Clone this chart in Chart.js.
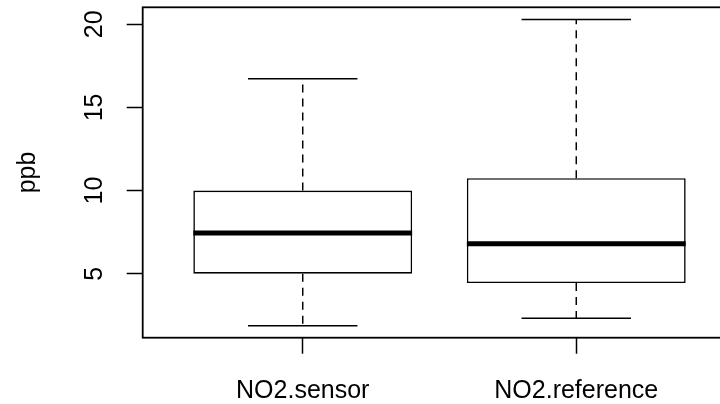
<!DOCTYPE html>
<html>
<head>
<meta charset="utf-8">
<title>NO2 boxplot</title>
<script src="https://cdn.jsdelivr.net/npm/chart.js@4"></script>
<style>
    html, body { margin: 0; padding: 0; background: #fff; overflow: hidden; }
    canvas { display: block; }
</style>
</head>
<body>
<canvas id="box-chart" width="740" height="404"></canvas>
<script>
// values (ppb)
const categories = ['NO2.sensor', 'NO2.reference'];
const whiskerLow = [1.87, 2.32];
const boxLow = [5.0, 4.44];
const medians = [7.45, 6.8];
const boxHigh = [10.0, 10.74];
const whiskerHigh = [16.73, 20.28];
const yTicks = [5, 10, 15, 20];

const positions = categories.map((c, i) => i + 1);
const boxHalf = 0.4;   // boxwex 0.8
const capHalf = 0.2;   // staple width

const FONT = '"Liberation Sans", Arial, Helvetica, sans-serif';

// segments, separated by gap points
const medianData = [];
const whiskerData = [];
const capData = [];
positions.forEach((p, i) => {
    medianData.push({x: p - boxHalf, y: medians[i]}, {x: p + boxHalf, y: medians[i]}, {x: p, y: null});
    whiskerData.push({x: p, y: boxHigh[i]}, {x: p, y: whiskerHigh[i]}, {x: p, y: null});
    whiskerData.push({x: p, y: boxLow[i]}, {x: p, y: whiskerLow[i]}, {x: p, y: null});
    capData.push({x: p - capHalf, y: whiskerHigh[i]}, {x: p + capHalf, y: whiskerHigh[i]}, {x: p, y: null});
    capData.push({x: p - capHalf, y: whiskerLow[i]}, {x: p + capHalf, y: whiskerLow[i]}, {x: p, y: null});
});

// frame round the plot region
const frame = {
    id: 'frame',
    afterDatasetsDraw(chart) {
        const a = chart.chartArea;
        const ctx = chart.ctx;
        ctx.save();
        ctx.strokeStyle = '#000';
        ctx.lineWidth = 1.8;
        ctx.strokeRect(a.left, a.top, a.right - a.left, a.bottom - a.top);
        ctx.restore();
    }
};

// no extra room for overhanging labels
const noLabelPadding = (scale) => {
    scale.paddingTop = 0;
    scale.paddingBottom = 0;
    scale.paddingLeft = 0;
    scale.paddingRight = 0;
};

const lineStyle = {
    type: 'line',
    borderColor: '#000',
    pointRadius: 0,
    fill: false,
    tension: 0,
    spanGaps: false
};

new Chart(document.getElementById('box-chart').getContext('2d'), {
    type: 'bar',
    data: {
        datasets: [
            Object.assign({}, lineStyle, {
                data: medianData,
                borderWidth: 5,
                borderCapStyle: 'butt',
                order: 1
            }),
            Object.assign({}, lineStyle, {
                data: capData,
                borderWidth: 1.5,
                order: 1
            }),
            Object.assign({}, lineStyle, {
                data: whiskerData,
                borderWidth: 1.5,
                borderDash: [8, 6],
                order: 2
            }),
            {
                type: 'bar',
                data: positions.map((p, i) => ({x: p, y: [boxLow[i], boxHigh[i]]})),
                backgroundColor: '#fff',
                borderColor: '#000',
                borderWidth: 1.6,
                borderSkipped: false,
                barPercentage: 0.8,
                categoryPercentage: 1,
                order: 3
            }
        ]
    },
    options: {
        responsive: false,
        animation: false,
        events: [],
        layout: { padding: { top: 7.3, right: 3.7, left: 0, bottom: 0 } },
        plugins: {
            legend: { display: false },
            tooltip: { enabled: false }
        },
        scales: {
            x: {
                type: 'linear',
                min: 0.415,
                max: 2.585,
                offset: false,
                afterBuildTicks: (scale) => { scale.ticks = positions.map(v => ({value: v})); },
                afterFit: (scale) => { scale.height = 66.3; noLabelPadding(scale); },
                grid: {
                    offset: false,
                    drawOnChartArea: false,
                    drawTicks: true,
                    tickLength: 16,
                    tickWidth: 1.5,
                    tickColor: '#000'
                },
                border: { display: false },
                ticks: {
                    color: '#000',
                    font: { family: FONT, size: 25 },
                    padding: 22,
                    maxRotation: 0,
                    autoSkip: false,
                    callback: (v) => categories[Math.round(v) - 1]
                }
            },
            y: {
                type: 'linear',
                min: 1.15,
                max: 21.02,
                afterBuildTicks: (scale) => { scale.ticks = yTicks.map(v => ({value: v})); },
                afterFit: (scale) => { scale.width = 142.7; noLabelPadding(scale); },
                grid: {
                    drawOnChartArea: false,
                    drawTicks: true,
                    tickLength: 16,
                    tickWidth: 1.5,
                    tickColor: '#000'
                },
                border: { display: false },
                ticks: {
                    color: '#000',
                    font: { family: FONT, size: 25 },
                    minRotation: 90,
                    maxRotation: 90,
                    crossAlign: 'center',
                    padding: 17.5,
                    autoSkip: false,
                    callback: (v) => String(v)
                },
                title: {
                    display: true,
                    text: 'ppb',
                    color: '#000',
                    font: { family: FONT, size: 25 },
                    padding: { top: 13, bottom: 0 }
                }
            }
        }
    },
    plugins: [frame]
});
</script>
</body>
</html>
